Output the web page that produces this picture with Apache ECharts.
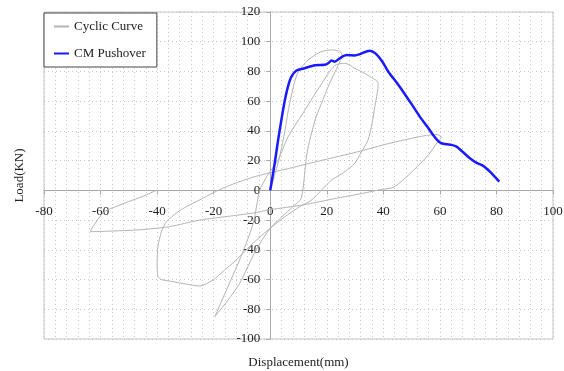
<!DOCTYPE html>
<html>
<head>
<meta charset="utf-8">
<script src="https://cdn.jsdelivr.net/npm/echarts@6/dist/echarts.min.js"></script>
<style>
  html, body { margin: 0; padding: 0; background: #fff; }
  #chart { width: 564px; height: 371px; }
</style>
</head>
<body>
<div id="chart"></div>
<script>
// Cyclic (hysteresis) test curve: displacement (mm) and load (kN), in loading order
const cyclicDisp = [
  0, 3, 5, 6.5, 8.5, 10, 13.4, 18, 22.2, 24.6, 25.4,
  24, 21, 18, 15.8, 13, 11, 8, 4, 0, -5, -10.8, -15, -19.6,
  -15, -10, -6, -3.7, -1, 2.8, 6.3, 11.6, 17.5, 22.8, 26.4, 30, 34, 38.2,
  37.8, 37, 36, 34.6, 32, 29.9, 26, 21.7, 14.6, 10.4, 5, 0, -6.1, -12, -17, -20.2,
  -25, -30, -34.4, -38.5, -39.7, -40, -39.7, -38.5, -36.7, -33, -29.7, -25, -20, -15.5,
  -5.5, 6.9, 20, 30, 42.3, 50, 55.3, 59, 60.5,
  59, 56, 52, 47, 43.5, 39, 35.2, 30, 23.4, 11.6, 0, -6.2, -15, -25, -35.6, -46, -58, -63.6,
  -62.7, -58.6, -54, -50, -45, -40.3
];
const cyclicLoad = [
  0, 20, 38, 55, 72, 80, 87.7, 93.3, 94.5, 93.5, 91,
  84, 72, 58, 47, 25, -5, -11, -18, -25.5, -40, -62.5, -74, -85,
  -65, -43, -22, 0, 10, 20.5, 36, 52, 69.8, 84, 85.5, 82, 78, 72,
  65, 56.3, 45, 33.9, 25, 18.2, 12, 7, -6.5, -11, -18, -25.5, -35.6, -46.8, -55, -60.3,
  -64.3, -63, -61.4, -60, -58, -48, -37.9, -28, -21, -15, -11, -6.5, -1.5, 2.5,
  9.2, 14.9, 21, 25.5, 31.7, 35, 37, 37.5, 36,
  32, 24, 16, 7, 2, 0.5, -1, -3, -5.3, -9.8, -13, -15.3, -17.5, -20, -24.4, -26.5, -27.5, -27.8,
  -24.4, -14.3, -10.5, -7.5, -4, 0
];

// CM pushover envelope
const pushDisp = [
  0, 1.4, 2.8, 4, 5.1, 6.3, 7.5, 9.3, 12.2, 15.8, 19.3, 20.5, 21.7, 22.8, 24.6, 27, 29.9,
  31.5, 35.2, 37.3, 39.5, 41.7, 44.5, 47, 50, 52.9, 55.5, 57.6, 59.5, 60.6, 62.5, 64.1,
  65.9, 68, 70.6, 73, 75.3, 77.7, 79.5, 81
];
const pushLoad = [
  0, 16, 34, 48, 60, 70, 76.5, 80.6, 82.2, 84.2, 84.5, 85.5, 87.3, 86.6, 88.9, 91, 90.8,
  91.5, 94, 92, 87, 80, 73, 66.4, 58, 49.6, 43, 37.3, 33, 31.7, 31, 30.6,
  29.4, 26, 21.6, 18.5, 16.5, 12.6, 9, 5.9
];

// Axis ranges and tick steps
const xRange = { min: -80, max: 100, step: 20 };
const yRange = { min: -100, max: 120, step: 20 };

const seriesNames = ['Cyclic Curve', 'CM Pushover'];

const zip = (xs, ys) => xs.map((x, i) => [x, ys[i]]);

const serif = '"Liberation Serif", "Times New Roman", serif';
const dotted = { color: '#c8c8c8', type: [1, 3], width: 1 };

const el = document.getElementById('chart');
const chart = echarts.init(el, null, { renderer: 'canvas' });

// Plot rectangle; the two axes (with their labels) cross at the origin,
// so each axis is shifted from its grid edge to the zero position of the other scale.
const gridRect = { left: 44, right: 11, top: 12, bottom: 32 };
const plotW = el.clientWidth - gridRect.left - gridRect.right;
const plotH = el.clientHeight - gridRect.top - gridRect.bottom;
const xAxisShift = -plotH * (0 - yRange.min) / (yRange.max - yRange.min);
const yAxisShift = -plotW * (0 - xRange.min) / (xRange.max - xRange.min);

chart.setOption({
  animation: false,
  backgroundColor: '#fff',
  textStyle: { fontFamily: serif, color: '#222' },
  grid: {
    left: gridRect.left, right: gridRect.right, top: gridRect.top, bottom: gridRect.bottom,
    containLabel: false,
    outerBoundsMode: 'none',
    show: true, borderColor: '#c4c4c4', borderWidth: 1
  },
  legend: {
    data: seriesNames,
    orient: 'vertical',
    left: 44, top: 13,
    padding: [7, 11, 7, 9],
    itemGap: 14,
    itemWidth: 15, itemHeight: 14,
    backgroundColor: '#fff',
    borderColor: '#444', borderWidth: 1,
    itemStyle: { opacity: 0 },
    textStyle: { fontFamily: serif, fontSize: 13, color: '#222' }
  },
  xAxis: {
    type: 'value',
    position: 'bottom',
    offset: xAxisShift,
    min: xRange.min, max: xRange.max, interval: xRange.step,
    name: 'Displacement(mm)',
    nameLocation: 'middle', nameGap: 166,
    nameTextStyle: { fontFamily: serif, fontSize: 13, color: '#222' },
    axisLine: { onZero: false, lineStyle: { color: '#a8a8a8', width: 1 } },
    axisTick: { show: true, length: 4, inside: false, lineStyle: { color: '#a8a8a8' } },
    axisLabel: { fontFamily: serif, fontSize: 13, color: '#222', margin: 15 },
    splitLine: { show: true, lineStyle: dotted },
    minorTick: { show: false, splitNumber: 5 },
    minorSplitLine: { show: true, lineStyle: dotted }
  },
  yAxis: {
    type: 'value',
    position: 'left',
    offset: yAxisShift,
    min: yRange.min, max: yRange.max, interval: yRange.step,
    name: 'Load(KN)',
    nameLocation: 'middle', nameGap: 244,
    nameTextStyle: { fontFamily: serif, fontSize: 13, color: '#222' },
    axisLine: { onZero: false, lineStyle: { color: '#a8a8a8', width: 1 } },
    axisTick: { show: true, length: 4, inside: false, lineStyle: { color: '#a8a8a8' } },
    axisLabel: { fontFamily: serif, fontSize: 13, color: '#222', margin: 10 },
    splitLine: { show: true, lineStyle: dotted }
  },
  series: [
    {
      name: seriesNames[0],
      type: 'line',
      data: zip(cyclicDisp, cyclicLoad),
      symbol: 'none',
      smooth: 0.25,
      lineStyle: { color: '#b4b4b4', width: 1 },
      itemStyle: { color: '#b4b4b4' },
      z: 2
    },
    {
      name: seriesNames[1],
      type: 'line',
      data: zip(pushDisp, pushLoad),
      symbol: 'none',
      smooth: 0.25,
      lineStyle: { color: '#1a1aff', width: 2.5 },
      itemStyle: { color: '#1a1aff' },
      z: 3
    }
  ]
});
</script>
</body>
</html>
